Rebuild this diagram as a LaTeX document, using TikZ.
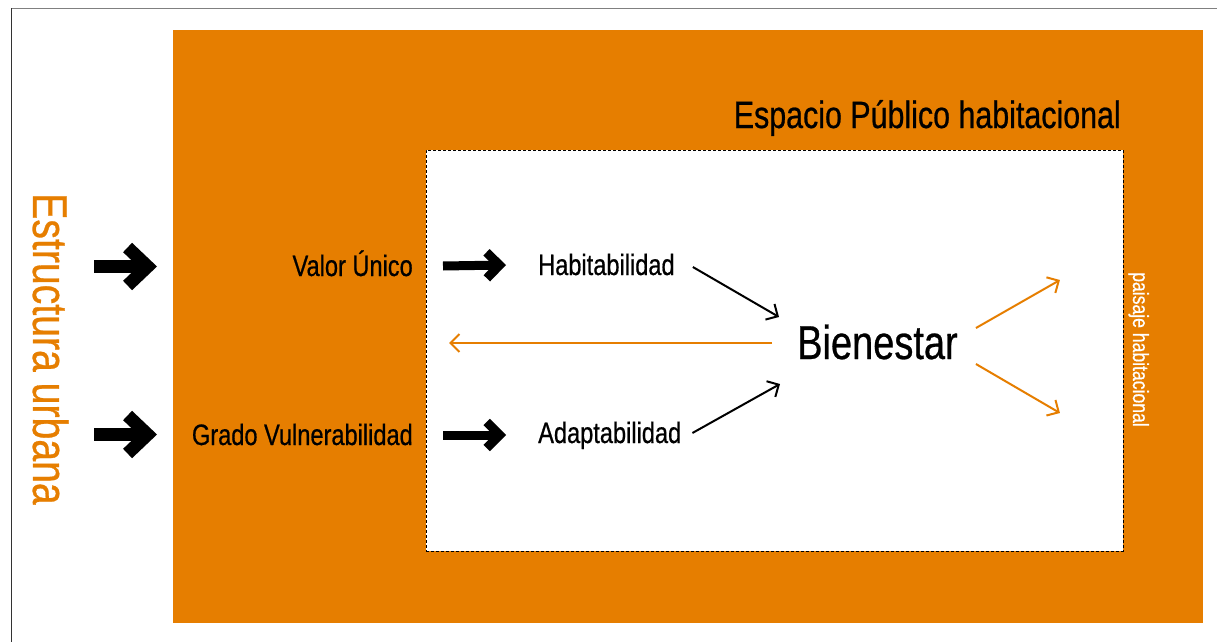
\documentclass[tikz,border=0pt]{standalone}
\usepackage{fontspec}
\setmainfont{Liberation Sans}[FakeStretch=0.8, FakeBold=0.6]
\usepackage{xcolor}
\usetikzlibrary{arrows.meta}
\definecolor{epOrange}{RGB}{230,126,0}

\begin{document}
\begin{tikzpicture}[x=1pt,y=-1pt,
  lbl/.style={inner sep=0pt, font=\fontsize{29.5}{32}\selectfont},
  bigarrow/.style={line width=13pt, -{Straight Barb[length=20pt,width=38pt]}},
  smallarrow/.style={line width=9pt, -{Straight Barb[length=13pt,width=26pt]}},
  thinarrow/.style={line width=2pt, -{Straight Barb[length=9pt,width=18pt]}},
  orangearrow/.style={thinarrow, draw=epOrange}]
  \useasboundingbox (0,0) rectangle (1217,642);
  % frame
  \draw[gray, line width=1.5pt] (11.5,8.5) -- (1217,8.5);
  \draw[black!80, line width=1.5pt] (11.5,8.5) -- (11.5,642);
  % boxes
  \node[fill=epOrange, inner sep=0, minimum width=1030pt, minimum height=593pt] (outer) at (688,326.5) {};
  \node[fill=white, draw, line width=0.8pt, dash pattern=on 3pt off 2pt, inner sep=0,
        minimum width=697pt, minimum height=401pt] (inner) at (774.5,350.5) {};
  % titles
  \node[anchor=base east, inner sep=0, font=\fontsize{38}{40}\selectfont] (titulo) at (1121,128) {Espacio Público habitacional};
  \node[rotate=-90, anchor=base west, inner sep=0, text=epOrange, font=\fontsize{49}{50}\selectfont] (estr) at (33,193) {Estructura urbana};
  \node[rotate=-90, anchor=base west, inner sep=0, text=white, font=\fontsize{22}{24}\selectfont] (paisaje) at (1133,272) {paisaje habitacional};
  % labels
  \node[lbl, anchor=base east] (valor) at (413,276) {Valor Único};
  \node[lbl, anchor=base east] (grado) at (413,445) {Grado Vulnerabilidad};
  \node[lbl, anchor=base west] (hab) at (538,275) {Habitabilidad};
  \node[lbl, anchor=base west] (adapt) at (538,443) {Adaptabilidad};
  \node[anchor=base west, inner sep=0, font=\fontsize{47.5}{50}\selectfont] (bien) at (797,359) {Bienestar};
  % entering arrows
  \coordinate (e1) at (94,266.5);
  \coordinate (e2) at (94,434.5);
  \draw[bigarrow] (e1) -- ++(63,0);
  \draw[bigarrow] (e2) -- ++(63,0);
  \draw[smallarrow] ([shift={(30pt,10pt)}]valor.base east) -- ([shift={(-32pt,10pt)}]hab.base west);
  \draw[smallarrow] ([shift={(30pt,10pt)}]grado.base east) -- ([shift={(-32pt,8pt)}]adapt.base west);
  % towards bienestar
  \draw[thinarrow] ([shift={(18pt,8pt)}]hab.base east) -- ([shift={(-18pt,42pt)}]bien.base west);
  \draw[thinarrow] ([shift={(11pt,10pt)}]adapt.base east) -- ([shift={(-17pt,-25pt)}]bien.base west);
  % from bienestar
  \draw[orangearrow] ([shift={(-25pt,16pt)}]bien.base west) -- ++(-323,0);
  \draw[orangearrow] ([shift={(18pt,31pt)}]bien.base east) -- ++(84,-48);
  \draw[orangearrow] ([shift={(18pt,-5pt)}]bien.base east) -- ++(84,49);
\end{tikzpicture}
\end{document}
